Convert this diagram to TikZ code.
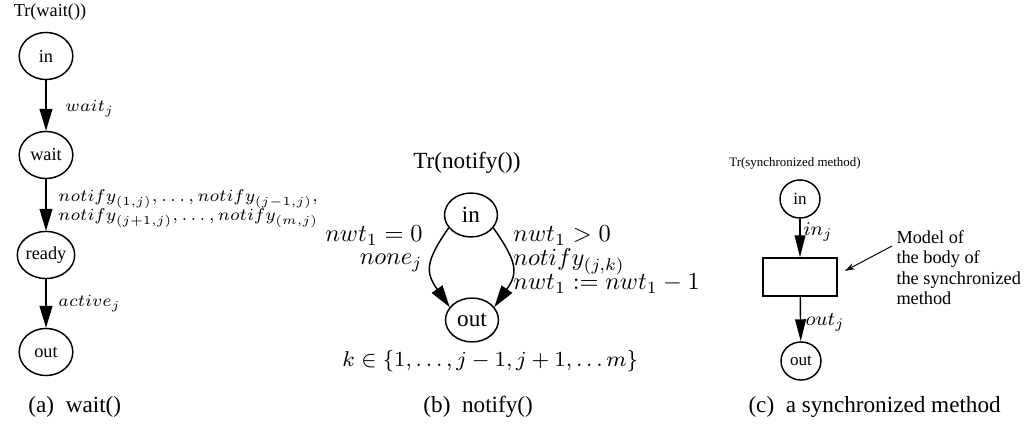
\documentclass[tikz,border=0pt]{standalone}
\usepackage{fix-cm}
\usepackage{amsmath,amssymb}
\usepackage[no-math]{fontspec}
\setmainfont{Liberation Serif}
\usepackage{tikz}
\usetikzlibrary{arrows.meta,shapes.geometric,positioning}

\begin{document}
\begin{tikzpicture}[x=0.41pt, y=-0.41pt,
    plc/.style={draw, ellipse, inner sep=0pt, line width=0.6pt},
    pa/.style={plc, minimum width=22pt, minimum height=19.3pt, font=\fontsize{7.5}{9}\selectfont},
    pb/.style={plc, minimum width=21.7pt, minimum height=18pt, font=\fontsize{9.5}{11}\selectfont},
    pc/.style={plc, minimum width=16.4pt, minimum height=15.6pt, font=\fontsize{7}{8}\selectfont},
    arr/.style={-{Triangle[length=9pt, width=5.3pt]}, line width=0.6pt},
    arrc/.style={-{Triangle[length=9pt, width=4.4pt]}, line width=0.6pt},
    ptr/.style={-{Stealth[length=4pt, width=2.6pt]}, line width=0.4pt},
    la/.style={font=\fontsize{7}{8}\selectfont, inner sep=0pt},
    lb/.style={font=\fontsize{10}{11}\selectfont, inner sep=0pt},
    lc/.style={font=\fontsize{8}{9}\selectfont, inner sep=0pt},
    subcap/.style={font=\fontsize{9.5}{12}\selectfont, inner sep=0pt}
]
\useasboundingbox (0,0) rectangle (1026,429);

% (a) wait()
\node[font=\fontsize{7.5}{9}\selectfont] (tra) at (50,12) {Tr(wait())};
\node[pa] (ina) at (46,56) {in};
\node[pa] (waita) at (46,155) {wait};
\node[pa] (readya) at (46,255) {ready};
\node[pa] (outa) at (46,352) {out};
\draw[arr] (ina) -- (waita);
\draw[arr] (waita) -- (readya);
\draw[arr] (readya) -- (outa);
\node[la, anchor=base west] (lwait) at (65,112) {$wait_j$};
\node[la, anchor=base west] (lnot1) at (58,202) {$notify_{(1,j)},\ldots,notify_{(j-1,j)},$};
\node[la, anchor=base west] (lnot2) at (58,221) {$notify_{(j+1,j)},\ldots,notify_{(m,j)}$};
\node[la, anchor=base west] (lact) at (58,307) {$active_j$};
\node[subcap, anchor=base west] (capa) at (28,413) {(a)\ \ wait()};

% (b) notify()
\node[font=\fontsize{9.5}{11}\selectfont] (trb) at (467,163) {Tr(notify())};
\node[pb] (inb) at (471,215) {in};
\node[pb] (outb) at (472,320) {out};
\draw[arr] (inb.210) to[out=235, in=125, looseness=1.35] (outb.150);
\draw[arr] (inb.330) to[out=305, in=55, looseness=1.35] (outb.30);
\node[lb, anchor=base east] (lzero) at (423,242) {$nwt_1=0$};
\node[lb, anchor=base east] (lnone) at (423,265) {$none_j$};
\node[lb, anchor=base west] (lpos) at (513,242) {$nwt_1>0$};
\node[lb, anchor=base west] (lnot) at (513,266) {$notify_{(j,k)}$};
\node[lb, anchor=base west] (ldec) at (513,290) {$nwt_1:=nwt_1-1$};
\node[lb, anchor=base west, font=\fontsize{8.8}{11}\selectfont] (kset) at (342,367) {$k\in\{1,\ldots,j-1,j+1,\ldots m\}$};
\node[subcap, anchor=base west] (capb) at (423,413) {(b)\ \ notify()};

% (c) synchronized method
\node[font=\fontsize{5.3}{6}\selectfont] (trc) at (795,163) {Tr(synchronized method)};
\node[pc] (inc) at (800,199) {in};
\node[draw, line width=0.6pt, minimum width=30.3pt, minimum height=15.6pt, inner sep=0pt] (body) at (800,277) {};
\node[pc] (outc) at (801,361) {out};
\draw[arrc] (inc) -- (body);
\draw[arrc] (body) -- (outc);
\node[lc, anchor=west] (lin) at (803,232) {$in_j$};
\node[lc, anchor=west] (lout) at (805,322) {$out_j$};
\node[anchor=north west, align=left, inner sep=0pt, font=\fontsize{7.5}{8.4}\selectfont] (ann) at (896,230)
    {Model of\\the body of\\the synchronized\\method};
\coordinate (anntip) at (892,246);
\draw[ptr] (anntip) -- ([xshift=3pt, yshift=2.5pt]body.east);
\node[subcap, anchor=base west] (capc) at (748,413) {(c)\ \ a synchronized method};
\end{tikzpicture}
\end{document}
